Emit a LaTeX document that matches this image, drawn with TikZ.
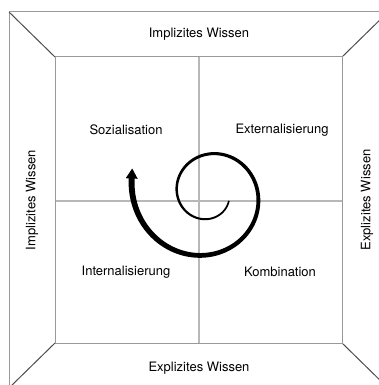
\documentclass[tikz,border=0pt]{standalone}
\usepackage{fontspec}
\setmainfont{TeX Gyre Heros}
\begin{document}
\begin{tikzpicture}[x=1pt,y=-1pt,
  boxline/.style={draw=black!40,line width=1pt},
  diagline/.style={draw=black!70,line width=1pt},
  crossline/.style={draw=black!28,line width=1.3pt},
  lbl/.style={font=\fontsize{13}{15}\selectfont,inner sep=0pt},
  spiral/.style={fill=black},
  declare function={sr(\t)=25.46*exp(0.0024438*(\t-90));}]
\useasboundingbox (0,0) rectangle (379,385);
\clip (0,0) rectangle (379,385);
% outer frame
\coordinate (o1) at (9,12);
\coordinate (o2) at (388,12);
\coordinate (o3) at (388,388);
\coordinate (o4) at (9,388);
\coordinate (i1) at (55,57);
\coordinate (i2) at (342,57);
\coordinate (i3) at (342,343);
\coordinate (i4) at (55,343);
\draw[boxline] (o1) -- (o2) -- (o3) -- (o4) -- cycle;
\draw[diagline] (o1) -- (i1) (o2) -- (i2) (o3) -- (i3) (o4) -- (i4);
\draw[crossline] (199,57) -- (199,343) (55,201) -- (342,201);
\draw[boxline] (i1) -- (i2) -- (i3) -- (i4) -- cycle;
% labels
\node[lbl] (top) at (199,34) {Implizites Wissen};
\node[lbl] (bot) at (199,368) {Explizites Wissen};
\node[lbl,rotate=90] (left) at (32,200) {Implizites Wissen};
\node[lbl,rotate=90] (right) at (367,200) {Explizites Wissen};
\node[lbl] (soz) at (126,130) {Sozialisation};
\node[lbl] (ext) at (282,130) {Externalisierung};
\node[lbl] (int) at (126,272) {Internalisierung};
\node[lbl] (kom) at (280,272) {Kombination};
% spiral
\fill[spiral] plot[domain=20:552,samples=240]
  ({208.7+1.0385*sr(\x)*cos(\x)},{193.5+1.0385*sr(\x)*sin(\x)})
  -- plot[domain=552:20,samples=240]
  ({208.7+0.9615*sr(\x)*cos(\x)},{193.5+0.9615*sr(\x)*sin(\x)}) -- cycle;
\fill[spiral] (125.7,178.2) -- (132.2,168.5) -- (137.7,178.8) -- cycle;
\end{tikzpicture}
\end{document}
